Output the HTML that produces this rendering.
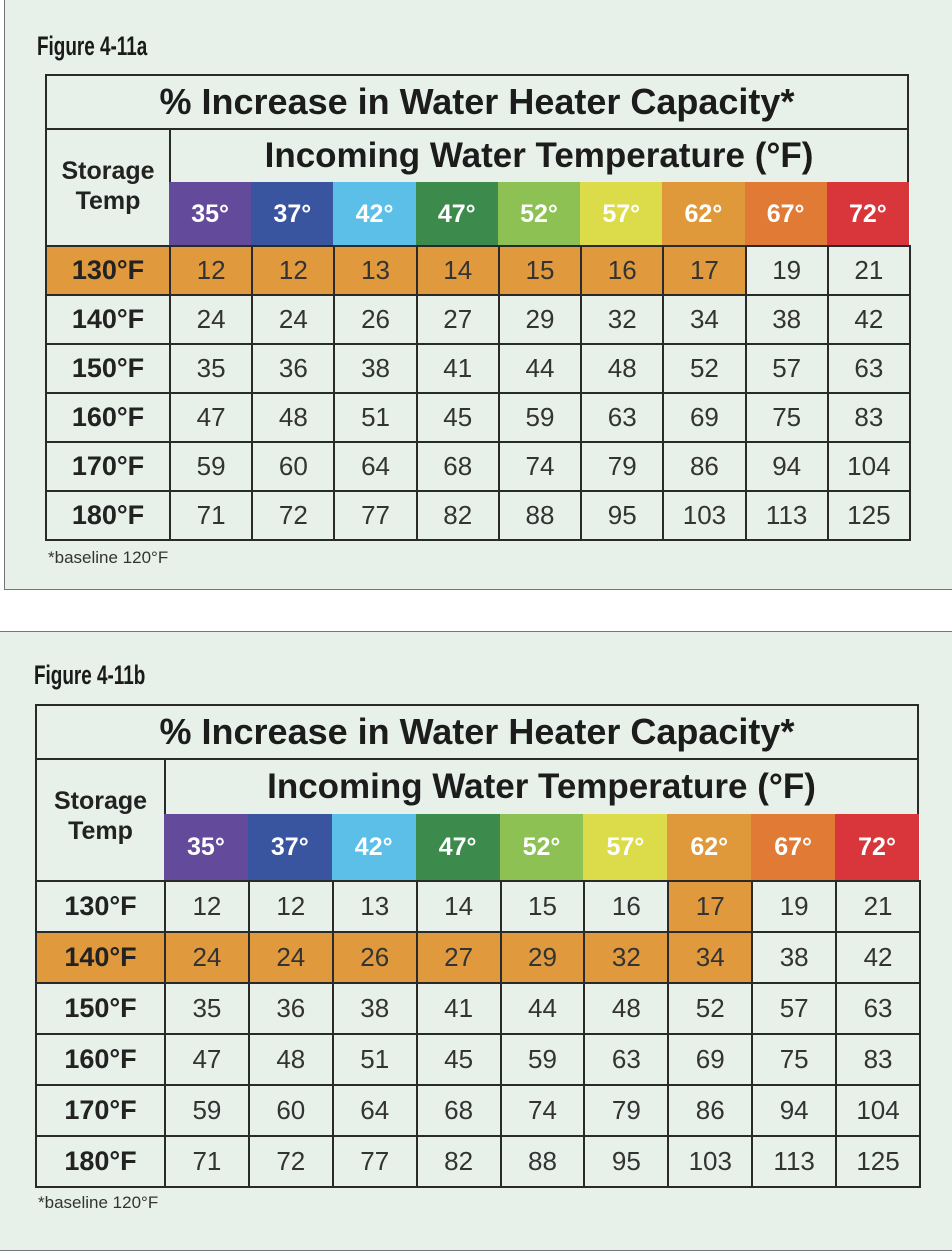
<!DOCTYPE html>
<html><head><meta charset="utf-8"><style>
body{margin:0;width:952px;height:1246px;background:#fff;position:relative;overflow:hidden;font-family:"Liberation Sans",sans-serif;}
.panel{position:absolute;background:#e7f1ea;border:1.5px solid #777;box-sizing:border-box;}
.fig{position:absolute;font-weight:bold;font-size:27px;color:#1a1a1a;transform:scaleX(0.7);transform-origin:left top;}
.c{position:absolute;box-sizing:border-box;display:flex;align-items:center;justify-content:center;color:#222;}
.foot{position:absolute;font-size:17px;color:#333;}
</style></head><body>
<div class="panel" style="left:4px;top:-2px;width:960px;height:592px"></div>
<div class="panel" style="left:-2px;top:631px;width:966px;height:620px"></div>
<div class="fig" style="left:37px;top:31px">Figure 4-11a</div>
<div class="fig" style="left:34px;top:660px">Figure 4-11b</div>
<div class="foot" style="left:48px;top:548px">*baseline 120°F</div>
<div class="foot" style="left:38px;top:1193px">*baseline 120°F</div>
<div id="root"></div>
<script>
const temps=["35°","37°","42°","47°","52°","57°","62°","67°","72°"];
const tempColors=["#634a9a","#3a55a0","#5bbfe8","#3c8a4c","#8dc153","#dcdc4a","#e0993a","#e07a35","#d8363a"];
const storage=["130°F","140°F","150°F","160°F","170°F","180°F"];
const r130=[12,12,13,14,15,16,17,19,21];
const r140=[24,24,26,27,29,32,34,38,42];
const r150=[35,36,38,41,44,48,52,57,63];
const r160=[47,48,51,45,59,63,69,75,83];
const r170=[59,60,64,68,74,79,86,94,104];
const r180=[71,72,77,82,88,95,103,113,125];
const rows=[r130,r140,r150,r160,r170,r180];
const HL="#e09a3d";
function cell(x,y,w,h,txt,opts,name){
  const d=document.createElement('div');d.className='c';
  
  
  d.style.left=x+'px';d.style.top=y+'px';d.style.width=w+'px';d.style.height=h+'px';
  d.style.border='2px solid #2a2a2a';
  for(const k in opts)d.style[k]=opts[k];
  d.textContent=txt;document.getElementById('root').appendChild(d);
}
function table(L,R,T,tH,iH,cH,rH,sW,hlRow,hlCells,p){
  const cw=(R-L-sW)/9;
  cell(L,T,R-L,tH+2,"% Increase in Water Heater Capacity*",{fontWeight:'bold',fontSize:'36px',color:'#1c1c1c'},p+'title');
  cell(L,T+tH,sW+2,iH+cH+2,"Storage\nTemp",{fontWeight:'bold',fontSize:'25px',whiteSpace:'pre',textAlign:'center',lineHeight:'30px',alignItems:'flex-start',paddingTop:'26px',color:'#222'},p+'storage-temp-header');
  cell(L+sW,T+tH,R-L-sW,iH+2,"Incoming Water Temperature (°F)",{fontWeight:'bold',fontSize:'35px',color:'#1c1c1c'},p+'incoming-header');
  temps.forEach((t,i)=>cell(L+sW+i*cw,T+tH+iH,cw+1,cH+1,t,{background:tempColors[i],color:'#fff',fontWeight:'bold',fontSize:'25px',border:'none',borderRight:'1px solid #fff'},p+'temp-'+i));
  const y0=T+tH+iH+cH;
  storage.forEach((s,r)=>{
    const y=y0+r*rH;const hl=r===hlRow;
    cell(L,y,sW+2,rH+2,s,{fontWeight:'bold',fontSize:'27px',background:hl?HL:'transparent'},p+'row-'+s);
    rows[r].forEach((v,i)=>{
      const h=(hl&&i<7)||hlCells.some(c=>c[0]===r&&c[1]===i);
      cell(L+sW+i*cw,y,cw+2,rH+2,String(v),{fontSize:'26px',color:'#333',background:h?HL:'transparent'},p+'cell-'+r+'-'+i);
    });
  });
}
table(45,909,74,54,54,63,49,124,0,[], 'a-');
table(35,919,704,54,56,66,51,129,1,[[0,6]], 'b-');
</script>
</body></html>
